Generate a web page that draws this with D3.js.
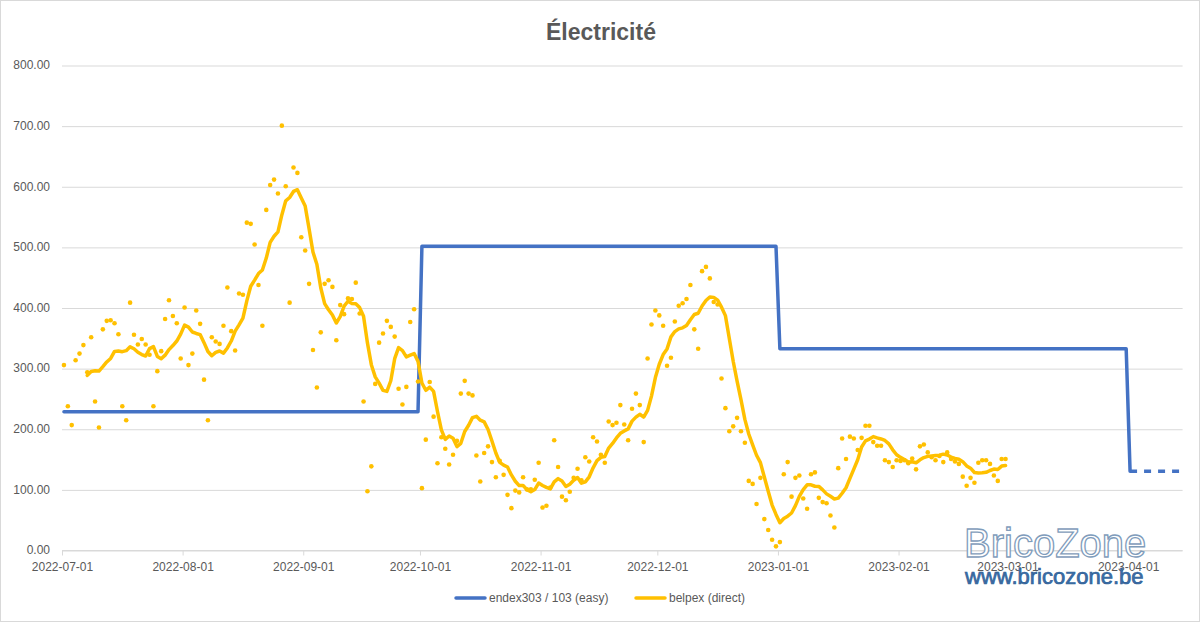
<!DOCTYPE html>
<html><head><meta charset="utf-8">
<script src="https://cdn.jsdelivr.net/npm/d3@7"></script>
<style>body{margin:0;background:#fff}</style>
</head><body><svg id="c" width="1200" height="622"></svg>
<script>
const title = "Électricité";
const yTicks = [0,100,200,300,400,500,600,700,800];
const xDomain = ["2022-07-01","2023-04-15"];
const endexLabel = "endex303 / 103 (easy)";
const belpexLabel = "belpex (direct)";
const endexDates = ["2022-07-01","2022-09-30","2022-10-01","2022-12-31","2023-01-01","2023-03-31","2023-04-01"];
const endexValues = [228,228,501,501,332,332,130];
const endexForecastDates = ["2023-04-01","2023-04-14"];
const endexForecastValues = [130,130];
const belpexStart = "2022-07-01";
const belpexValues = [
305,237,206,313,324,338,293,351,245,202,364,378,379,374,356,237,214,408,355,339,
348,339,322,237,295,328,381,412,386,374,316,400,305,324,395,373,281,214,351,344,
340,370,433,361,329,423,421,540,538,504,437,370,561,602,611,588,700,600,408,631,
622,516,494,439,330,268,359,439,445,434,346,404,389,415,414,441,390,245,97,138,
274,342,357,378,368,352,266,240,269,376,397,278,102,182,277,220,143,186,167,141,
157,180,258,279,258,255,156,113,160,171,145,120,147,124,91,69,98,95,120,100,
100,116,144,70,73,103,181,137,88,82,96,119,134,115,153,146,186,179,157,144,
212,206,210,239,207,181,233,258,239,178,316,372,395,387,370,304,317,377,403,407,
414,437,364,332,460,467,448,409,405,283,234,196,204,218,196,177,114,109,76,119,
51,33,17,6,13,125,145,88,119,123,85,68,125,128,86,79,77,57,37,135,
184,150,187,184,165,185,205,205,178,172,172,148,145,137,148,147,148,143,151,133,
171,174,161,153,148,155,145,161,150,146,142,121,106,119,111,144,148,148,142,123,
114,150,150];
const maPeriod = 7;

const svg = d3.select("#c");
const W = 1200, H = 622;
const FONT = "'Liberation Sans', Arial, sans-serif";
const GREY = "#595959", GRID = "#D9D9D9";
const BLUE = "#4472C4", YELLOW = "#FFC000";
const parse = d3.utcParse("%Y-%m-%d");
const mid = d => d3.utcHour.offset(d, 12);

const x = d3.scaleUtc().domain(xDomain.map(parse)).range([62, 1182.6]);
const y = d3.scaleLinear().domain([0, 800]).range([550, 65]);

svg.append("rect").attr("x",0.5).attr("y",0.5).attr("width",W-1).attr("height",H-1)
  .attr("fill","#fff").attr("stroke",GRID);

svg.append("text").attr("x",601).attr("y",40).attr("text-anchor","middle")
  .attr("font-family",FONT).attr("font-weight","bold").attr("font-size",23)
  .attr("fill",GREY).text(title);

// grid
const yAxis = d3.axisLeft(y).tickValues(yTicks).tickFormat(d3.format(".2f"))
  .tickSize(-(x.range()[1]-x.range()[0])).tickPadding(12);
const gy = svg.append("g").attr("transform","translate(62,0)").call(yAxis);
gy.select(".domain").remove();
gy.selectAll(".tick line").attr("stroke",GRID).attr("stroke-width",1)
  .attr("transform","translate(0,0.5)");
gy.selectAll(".tick text").attr("font-family",FONT).attr("font-size",12).attr("fill",GREY);

const xAxis = d3.axisBottom(x).ticks(d3.utcMonth.every(1)).tickFormat(d3.utcFormat("%Y-%m-%d"))
  .tickSize(5).tickPadding(7);
const gx = svg.append("g").attr("transform","translate(0,550.5)").call(xAxis);
gx.select(".domain").attr("stroke",GRID).attr("d",`M${x.range()[0]},0H${x.range()[1]}`);
gx.selectAll(".tick line").attr("stroke",GRID);
gx.selectAll(".tick text").attr("font-family",FONT).attr("font-size",12).attr("fill",GREY);

// endex
const endex = endexDates.map((d,i)=>({date:parse(d), v:endexValues[i]}));
const endexF = endexForecastDates.map((d,i)=>({date:parse(d), v:endexForecastValues[i]}));
const line = d3.line().x(d=>x(mid(d.date))).y(d=>y(d.v));
svg.append("path").attr("d",line(endex)).attr("fill","none").attr("stroke",BLUE)
  .attr("stroke-width",3.5).attr("stroke-linejoin","round").attr("stroke-linecap","round");
svg.append("path").attr("d",line(endexF)).attr("fill","none").attr("stroke",BLUE)
  .attr("stroke-width",3.5).attr("stroke-dasharray","7,7").attr("stroke-linecap","butt");

// belpex
const start = parse(belpexStart);
const belpex = belpexValues.map((v,i)=>({date:d3.utcDay.offset(start,i), v}));
svg.append("g").selectAll("circle").data(belpex).join("circle")
  .attr("cx",d=>x(mid(d.date))).attr("cy",d=>y(d.v)).attr("r",2.3).attr("fill",YELLOW);
const ma = belpex.slice(maPeriod-1).map((d,i)=>({date:d.date, v:d3.mean(belpex.slice(i,i+maPeriod),e=>e.v)}));
svg.append("path").attr("d",line(ma)).attr("fill","none").attr("stroke",YELLOW)
  .attr("stroke-width",3.5).attr("stroke-linejoin","round").attr("stroke-linecap","round");

// legend
const leg = svg.append("g").attr("font-family",FONT).attr("font-size",12).attr("fill",GREY);
leg.append("line").attr("x1",456).attr("x2",485).attr("y1",598).attr("y2",598).attr("stroke",BLUE).attr("stroke-width",3.5).attr("stroke-linecap","round");
leg.append("text").attr("x",489).attr("y",602).text(endexLabel);
leg.append("line").attr("x1",636).attr("x2",665).attr("y1",598).attr("y2",598).attr("stroke",YELLOW).attr("stroke-width",3.5).attr("stroke-linecap","round");
leg.append("text").attr("x",669).attr("y",602).text(belpexLabel);

// watermark
const wm = svg.append("g").attr("font-family",FONT);
wm.append("text").attr("x",964).attr("y",557).attr("font-size",40).attr("fill","#fff")
  .attr("stroke","#7f9cbb").attr("stroke-width",1.3).text("BricoZone");
wm.append("text").attr("x",965).attr("y",584).attr("font-size",22).attr("fill","#3d6fa8")
  .attr("stroke","#2f5f96").attr("stroke-width",0.7).text("www.bricozone.be");
</script></body></html>
